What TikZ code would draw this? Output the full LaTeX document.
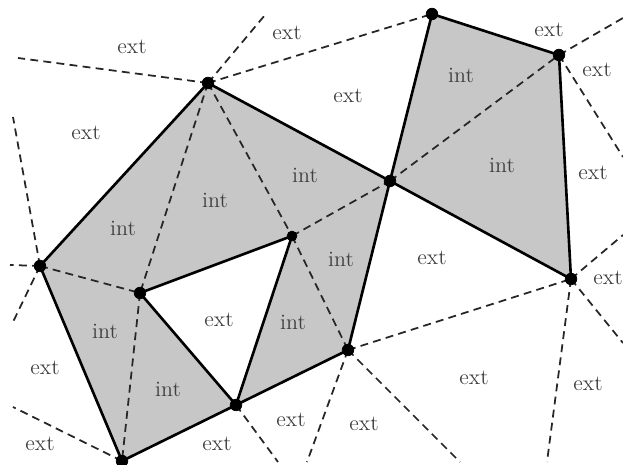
\documentclass[tikz,border=0pt]{standalone}
\begin{document}
\begin{tikzpicture}[x=0.02cm,y=-0.02cm,
    edge/.style={black, line width=1.5pt, line join=round},
    ray/.style={black!85, line width=1pt, dash pattern=on 4.5pt off 3pt},
    lbl/.style={font=\fontsize{12.5}{14}\selectfont, text=black!75}]
    \useasboundingbox (0,0) rectangle (623,465);

    % vertices
    \coordinate (A) at (208,83);
    \coordinate (B) at (390,181);
    \coordinate (C) at (432,14);
    \coordinate (D) at (559,55);
    \coordinate (E) at (571,279);
    \coordinate (F) at (40,266);
    \coordinate (G) at (140,293);
    \coordinate (H) at (292,236);
    \coordinate (I) at (236,405);
    \coordinate (J) at (348,350);
    \coordinate (K) at (122,461);

    % free ends of the outer dashed lines
    \coordinate (a1) at (18,58);
    \coordinate (a2) at (265,15);
    \coordinate (f1) at (13,117);
    \coordinate (f2) at (10,265);
    \coordinate (f3) at (13,322);
    \coordinate (k1) at (13,407);
    \coordinate (i1) at (278,462);
    \coordinate (j1) at (307,462);
    \coordinate (j2) at (460,462);
    \coordinate (e1) at (547,462);
    \coordinate (e2) at (623,343);
    \coordinate (e3) at (623,235);
    \coordinate (d1) at (623,18);
    \coordinate (d2) at (623,157);

    % shaded regions (left one with a hole)
    \fill[black!22, even odd rule] (A) -- (B) -- (J) -- (I) -- (K) -- (F) -- cycle
        (G) -- (H) -- (I) -- cycle;
    \fill[black!22] (B) -- (C) -- (D) -- (E) -- cycle;

    % dashed lines
    \foreach \u/\v in {A/G,A/H,H/B,B/D,H/J,F/G,G/K,A/C,J/E}
        \draw[ray] (\u) -- (\v);
    \foreach \u/\v in {A/a1,A/a2,F/f1,F/f2,F/f3,K/k1,I/i1,J/j1,J/j2,E/e1,E/e2,E/e3,D/d1,D/d2}
        \draw[ray] (\u) -- (\v);

    % solid edges
    \draw[edge] (A) -- (B) -- (J) -- (I) -- (K) -- (F) -- cycle;
    \draw[edge] (G) -- (H) -- (I) -- cycle;
    \draw[edge] (B) -- (C) -- (D) -- (E) -- cycle;

    \foreach \p in {A,B,C,D,E,F,G,I,J,K} \filldraw (\p) circle (3.3pt);
    \filldraw (H) circle (2.8pt);

    % labels
    \foreach \x/\y [count=\n] in {215/200,305/175,123/228,461/75,502/165,341/259,293/322,105/331,168/389}
        \node[lbl] (int\n) at (\x,\y) {int};
    \foreach \x/\y [count=\n] in {132/47,287/33,86/133,348/96,549/30,597/70,593/173,432/258,608/278,
                                  474/378,588/384,364/424,219/320,45/368,291/420,40/444,217/444}
        \node[lbl] (ext\n) at (\x,\y) {ext};
\end{tikzpicture}
\end{document}
